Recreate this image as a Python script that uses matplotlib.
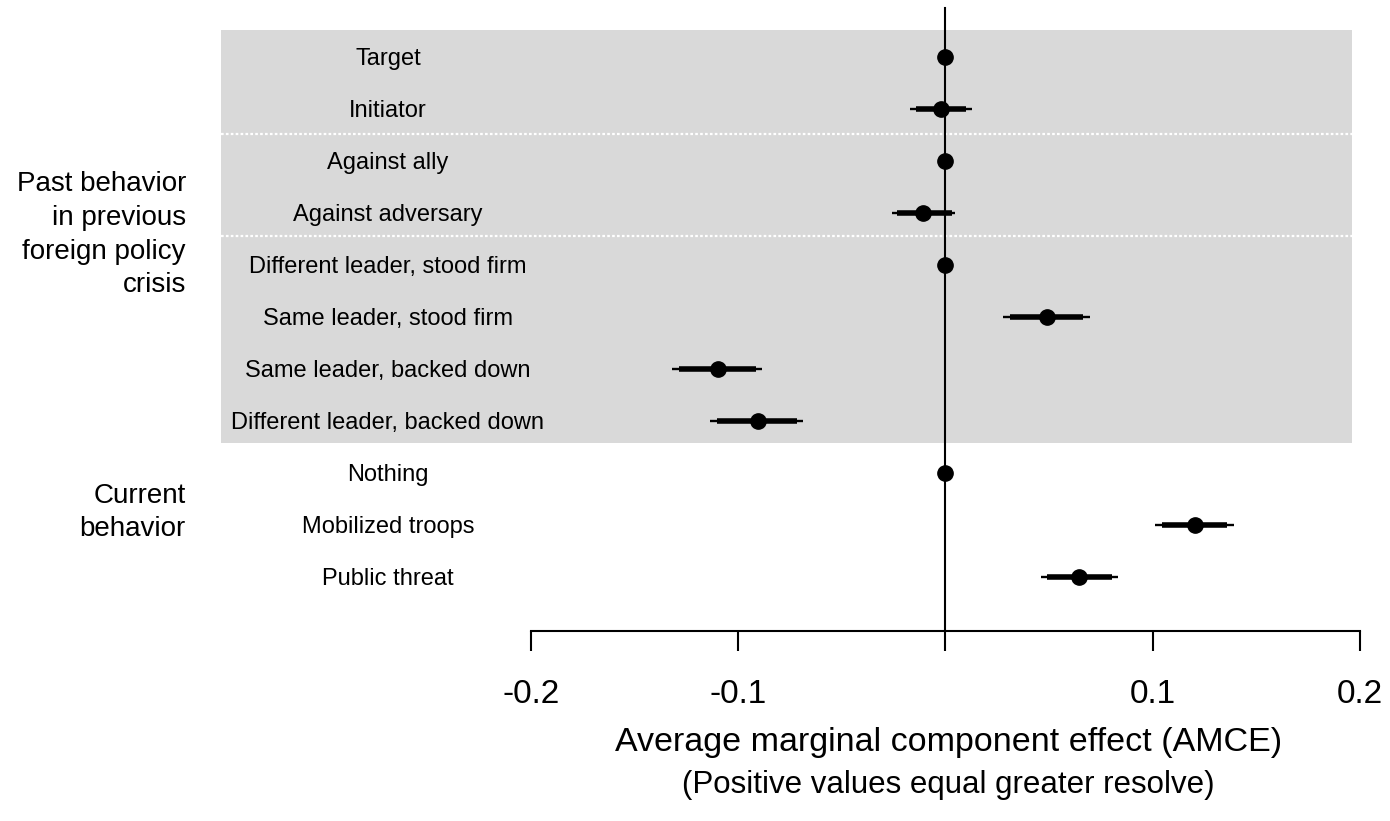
import numpy as np
import matplotlib
matplotlib.use("Agg")
import matplotlib.pyplot as plt
from matplotlib.patches import Rectangle

plt.rcParams["font.family"] = ["Liberation Sans", "DejaVu Sans"]

# attribute levels, top to bottom
levels = ["Target", "Initiator", "Against ally", "Against adversary",
          "Different leader, stood firm", "Same leader, stood firm",
          "Same leader, backed down", "Different leader, backed down",
          "Nothing", "Mobilized troops", "Public threat"]

# AMCE estimates (reference levels sit at 0 with no interval)
amce = [0.0, -0.0022, 0.0, -0.0109, 0.0, 0.0490, -0.1098, -0.0905, 0.0, 0.1204, 0.0644]
ci95_lo = [np.nan, -0.0171, np.nan, -0.0258, np.nan, 0.0277, -0.1320, -0.1136, np.nan, 0.1011, 0.0461]
ci95_hi = [np.nan, 0.0128, np.nan, 0.0046, np.nan, 0.0697, -0.0885, -0.0688, np.nan, 0.1392, 0.0833]
ci90_lo = [np.nan, -0.0142, np.nan, -0.0234, np.nan, 0.0311, -0.1286, -0.1103, np.nan, 0.1045, 0.0490]
ci90_hi = [np.nan, 0.0099, np.nan, 0.0031, np.nan, 0.0663, -0.0914, -0.0717, np.nan, 0.1359, 0.0803]

group_labels = ["Past behavior\nin previous\nforeign policy\ncrisis", "Current\nbehavior"]
group_rows = [3.42, 8.76]
separators = [1.48, 3.44]

xticks = [-0.2, -0.1, 0.0, 0.1, 0.2]
xticklabels = ["-0.2", "-0.1", "", "0.1", "0.2"]

fig = plt.figure(figsize=(13.9, 8.21), dpi=100)
# axes spans from figure top down to the x axis line
ax = fig.add_axes([0, 190 / 821, 1, 631 / 821])
ax.set_xlim(-0.4562, 0.2145)
ax.set_ylim(11.038, -1.096)

rows = np.arange(len(levels))

# grey band behind the past behavior block
ax.add_patch(Rectangle((-0.3496, -0.52), 0.196 + 0.3496, 7.94,
                       facecolor="#d9d9d9", edgecolor="none", zorder=0))
for s in separators:
    ax.plot([-0.3496, 0.196], [s, s], color="white", lw=1.6,
            linestyle=(0, (1.2, 1.0)), zorder=1)

# zero reference line
ax.plot([0, 0], [-0.942, 11.038], color="black", lw=1.5, zorder=2)

# intervals and point estimates
ax.hlines(rows, ci95_lo, ci95_hi, color="black", lw=1.7, zorder=3)
ax.hlines(rows, ci90_lo, ci90_hi, color="black", lw=4.0, zorder=3)
ax.plot(amce, rows, "o", color="black", markersize=11, zorder=4)

# level labels
for r, lab in zip(rows, levels):
    ax.text(-0.2690, r + 0.04, lab, ha="center", va="center", fontsize=17)

# attribute labels
for r, lab in zip(group_rows, group_labels):
    ax.text(-0.3665, r, lab, ha="right", va="center", fontsize=20, linespacing=1.38)

# x axis
for side in ["top", "left", "right"]:
    ax.spines[side].set_visible(False)
ax.spines["bottom"].set_bounds(-0.2, 0.2)
ax.spines["bottom"].set_linewidth(1.5)
ax.set_xticks(xticks)
ax.set_xticklabels(xticklabels, fontsize=24)
ax.tick_params(axis="x", length=14.4, width=1.5, pad=20)
ax.set_yticks([])
ax.patch.set_alpha(0)

ax.text(0.0013, 13.18, "Average marginal component effect (AMCE)",
        ha="center", va="center", fontsize=24.5)
ax.text(0.0013, 14.0, "(Positive values equal greater resolve)",
        ha="center", va="center", fontsize=22.5)

fig.savefig("out.png", dpi=100)
